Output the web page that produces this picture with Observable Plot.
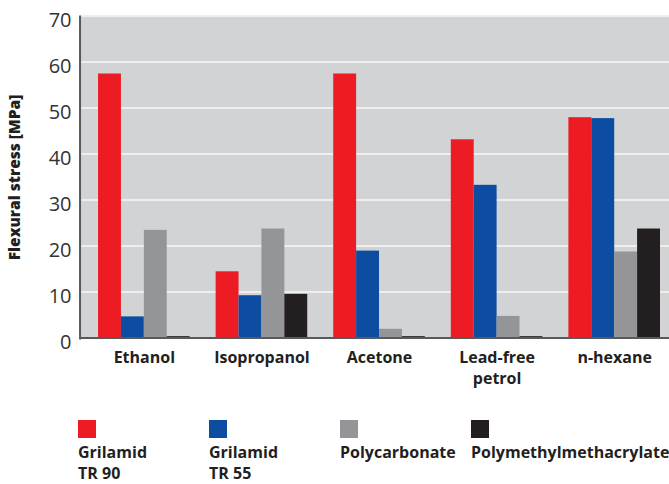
<!DOCTYPE html>
<html><head><meta charset="utf-8">
<script src="https://cdn.jsdelivr.net/npm/d3@7"></script>
<script src="https://cdn.jsdelivr.net/npm/@observablehq/plot@0.6"></script>
<style>
body{margin:0;background:#fff;font-family:"Open Sans",sans-serif;overflow:hidden;width:669px;height:484px}
#legend{display:flex;padding-left:78px;margin-top:20px}
.item{width:131px;flex:none;color:#231f20;font-weight:700;font-size:16px;line-height:24px;white-space:nowrap}
.item:last-child{width:auto}
.item .l2{line-height:16px;margin-top:1px}
.sw{width:18px;height:18px;margin-bottom:2px}
</style></head><body><div id="chart"></div><div id="legend"></div>
<script>
const categories = ["Ethanol", "Isopropanol", "Acetone", "Lead-free petrol", "n-hexane"];
const categoryLabels = ["Ethanol", "Isopropanol", "Acetone", "Lead-free\npetrol", "n-hexane"];
const series = ["Grilamid TR 90", "Grilamid TR 55", "Polycarbonate", "Polymethylmethacrylate"];
const seriesLabels = [["Grilamid", "TR 90"], ["Grilamid", "TR 55"], ["Polycarbonate"], ["Polymethylmethacrylate"]];
const seriesColors = ["#ed1c24", "#0c4da2", "#939598", "#231f20"];
const grilamidTR90 = [57.5, 14.5, 57.5, 43.2, 48.0];
const grilamidTR55 = [4.7, 9.3, 19.0, 33.3, 47.8];
const polycarbonate = [23.5, 23.8, 2.0, 4.8, 18.8];
const pmma = [0.4, 9.6, 0.4, 0.4, 23.8];
const yTicks = [0, 10, 20, 30, 40, 50, 60, 70];

const seriesValues = [grilamidTR90, grilamidTR55, polycarbonate, pmma];
const data = categories.flatMap((cat, i) =>
  series.map((s, j) => ({cat, series: s, value: seriesValues[j][i], label: categoryLabels[i]})));

const chart = Plot.plot({
  width: 669, height: 400,
  marginLeft: 80, marginRight: 0, marginTop: 16, marginBottom: 62,
  style: {fontFamily: "Open Sans", background: "transparent", color: "#231f20", overflow: "visible"},
  facet: {data, x: "cat"},
  fx: {domain: categories, paddingInner: 0.221, paddingOuter: 0.115, align: 0.667, round: false, axis: null, label: null},
  x: {domain: series, padding: 0, round: false, axis: null},
  y: {domain: [0, 70], axis: null},
  color: {domain: series, range: seriesColors},
  marks: [
    Plot.frame({fill: "#d1d3d4", stroke: null, insetLeft: -18, insetRight: -18}),
    Plot.ruleY(yTicks.filter(t => t > 0), {stroke: "#eeeeee", strokeWidth: 2, dy: -0.5, insetLeft: -18, insetRight: -18}),
    Plot.barY(data, {x: "series", y: "value", fill: "series"}),
    Plot.ruleY([0], {stroke: "#58595b", strokeWidth: 2, dy: -0.5, insetLeft: -18, insetRight: -18}),
    Plot.frame({anchor: "left", facetAnchor: "left", dx: -18.5, stroke: "#58595b", strokeWidth: 2}),
    Plot.text(data, {filter: d => d.series === series[0], text: "label", frameAnchor: "bottom", lineAnchor: "top",
      dy: 10, fontSize: 16, fontWeight: 700, lineHeight: 1.3, fill: "#231f20"}),
    Plot.axisY(yTicks, {tickSize: 0, tickPadding: 27, dy: 4, fontSize: 20, fill: "#333", label: null}),
    Plot.axisY({ticks: [], label: "Flexural stress [MPa]", labelAnchor: "center", labelArrow: "none",
      labelOffset: 90, fontSize: 15.5, fontWeight: 800, fill: "#231f20"})
  ]
});
document.getElementById("chart").appendChild(chart);

const legend = document.getElementById("legend");
series.forEach((s, i) => {
  const item = document.createElement("div");
  item.className = "item";
  const sw = document.createElement("div");
  sw.className = "sw";
  sw.style.background = seriesColors[i];
  item.appendChild(sw);
  seriesLabels[i].forEach((line, k) => {
    const t = document.createElement("div");
    if (k > 0) t.className = "l2";
    t.textContent = line;
    item.appendChild(t);
  });
  legend.appendChild(item);
});
</script></body></html>
